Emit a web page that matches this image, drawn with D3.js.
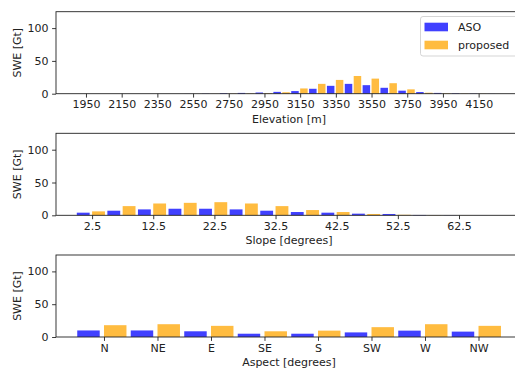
<!DOCTYPE html>
<html>
<head>
<meta charset="utf-8">
<script src="https://cdn.jsdelivr.net/npm/d3@7/dist/d3.min.js"></script>
<style>
  html, body { margin: 0; padding: 0; background: #fff; }
  svg { display: block; }
  text { font-family: "DejaVu Sans", sans-serif; fill: #222; }
</style>
</head>
<body>
<svg id="chart" width="515" height="368"></svg>
<script>
// ---------------- data ----------------
const elevBins = [1850,1950,2050,2150,2250,2350,2450,2550,2650,2750,2850,2950,3050,3150,3250,3350,3450,3550,3650,3750,3850,3950,4050,4150,4250];
const elevASO      = [0,0,0,0,0,0,0,0.1,0.3,0.8,1.2,1.8,2.8,4,7.5,12,15,13,9,4.6,2.5,1.2,0.6,0.3,0.1];
const elevProposed = [0,0,0,0,0,0,0,0,0.1,0.3,0.5,0.8,2.2,8,15,21,27,23,16,6.6,1.5,0.6,0.3,0.2,0.05];
const elevTicks = [1950,2150,2350,2550,2750,2950,3150,3350,3550,3750,3950,4150];

const slopeBins = [2.5,7.5,12.5,17.5,22.5,27.5,32.5,37.5,42.5,47.5,52.5,57.5,62.5,67.5];
const slopeASO      = [4,7,9,10,10,9,7,5,4,2.5,2,0.5,0.2,0.05];
const slopeProposed = [6,14,18,19,20,18,14,8,5,2,0.8,0.3,0.1,0];
const slopeTicks = [2.5,12.5,22.5,32.5,42.5,52.5,62.5];

const aspectCats = ["N","NE","E","SE","S","SW","W","NW"];
const aspectASO      = [10,10,8.7,5,5,7,9.7,8.2];
const aspectProposed = [18,19.5,17,8.7,9.7,15,19.5,17];

const yTicks = [0,50,100];
const yMax = 125;
const seriesNames = ["ASO","proposed"];
const seriesColors = ["#4040ff","#ffbc40"];

// ---------------- layout ----------------
const svg = d3.select("#chart");
const left = 56, right = 522, plotH = 82;
const tops = [11.7, 133.3, 255];

const panels = [
  { bins: elevBins, a: elevASO, b: elevProposed, width: 100,
    domain: [1782, 4393], ticks: elevTicks, fmt: d => String(d), label: "Elevation [m]" },
  { bins: slopeBins, a: slopeASO, b: slopeProposed, width: 5,
    domain: [-3.4, 72.8], ticks: slopeTicks, fmt: d => d.toFixed(1), label: "Slope [degrees]" },
  { bins: aspectCats.map((d, i) => i), a: aspectASO, b: aspectProposed, width: 1,
    domain: [-0.897, 7.813], ticks: aspectCats.map((d, i) => i), fmt: i => aspectCats[i], label: "Aspect [degrees]" }
];

panels.forEach((p, pi) => {
  const top = tops[pi], bottom = top + plotH;
  const x = d3.scaleLinear().domain(p.domain).range([left, right]);
  const y = d3.scaleLinear().domain([0, yMax]).range([bottom, top]);
  const g = svg.append("g");

  // bars
  const w = p.width;
  const rowsA = p.bins.map((c, i) => ({ c, v: p.a[i] }));
  const rowsB = p.bins.map((c, i) => ({ c, v: p.b[i] }));
  g.selectAll("rect.a").data(rowsA).enter().append("rect")
    .attr("x", d => x(d.c - 0.5 * w))
    .attr("width", d => x(d.c - 0.08 * w) - x(d.c - 0.5 * w))
    .attr("y", d => y(d.v))
    .attr("height", d => y(0) - y(d.v))
    .attr("fill", seriesColors[0]);
  g.selectAll("rect.b").data(rowsB).enter().append("rect")
    .attr("x", d => x(d.c))
    .attr("width", d => x(d.c + 0.42 * w) - x(d.c))
    .attr("y", d => y(d.v))
    .attr("height", d => y(0) - y(d.v))
    .attr("fill", seriesColors[1]);

  // frame
  g.append("rect").attr("x", left).attr("y", top)
    .attr("width", right - left).attr("height", plotH)
    .attr("fill", "none").attr("stroke", "#222").attr("stroke-width", 0.9);

  // x axis
  const xa = g.append("g").attr("transform", `translate(0,${bottom})`)
    .call(d3.axisBottom(x).tickValues(p.ticks).tickFormat(p.fmt).tickSize(3.9).tickPadding(3));
  xa.select(".domain").remove();
  xa.selectAll("line").attr("stroke", "#222").attr("stroke-width", 0.9);
  xa.selectAll("text").style("font-size", "11px").attr("fill", "#222");

  // y axis
  const ya = g.append("g").attr("transform", `translate(${left},0)`)
    .call(d3.axisLeft(y).tickValues(yTicks).tickFormat(d3.format("d")).tickSize(3.9).tickPadding(3.5));
  ya.select(".domain").remove();
  ya.selectAll("line").attr("stroke", "#222").attr("stroke-width", 0.9);
  ya.selectAll("text").style("font-size", "11px").attr("fill", "#222");

  // labels
  g.append("text").attr("x", (left + right) / 2).attr("y", bottom + 29)
    .attr("text-anchor", "middle").style("font-size", "11px").text(p.label);
  g.append("text").attr("transform", `translate(20.5,${(top + bottom) / 2}) rotate(-90)`)
    .attr("text-anchor", "middle").style("font-size", "11px").text("SWE [Gt]");

  // legend on first panel
  if (pi === 0) {
    const lg = g.append("g");
    lg.append("rect").attr("x", 420.5).attr("y", 16.5).attr("width", 110).attr("height", 39.5)
      .attr("rx", 2.5).attr("fill", "#fff").attr("fill-opacity", 0.8)
      .attr("stroke", "#d0d0d0").attr("stroke-width", 0.9);
    seriesNames.forEach((name, i) => {
      const cy = 27 + i * 18;
      lg.append("rect").attr("x", 424.5).attr("y", cy - 4.3).attr("width", 23.5).attr("height", 8.6)
        .attr("fill", seriesColors[i]);
      lg.append("text").attr("x", 458).attr("y", cy).attr("dy", "0.35em")
        .style("font-size", "11px").text(name);
    });
  }
});
</script>
</body>
</html>
